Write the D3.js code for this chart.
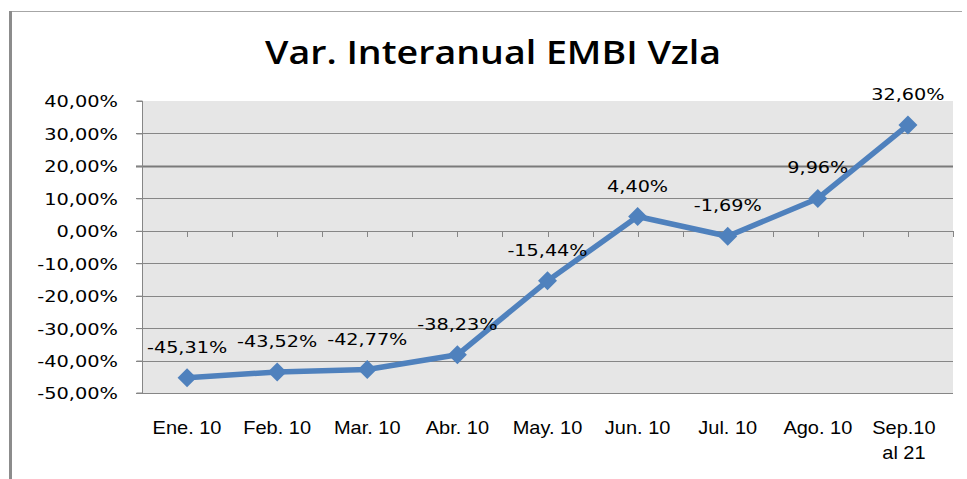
<!DOCTYPE html>
<html>
<head>
<meta charset="utf-8">
<script src="https://cdn.jsdelivr.net/npm/d3@7"></script>
<style>
  html, body { margin: 0; padding: 0; background: #ffffff; }
  svg { display: block; }
</style>
</head>
<body>
<svg id="chart" width="967" height="479"></svg>
<script>
// ---- data ----
const title = "Var. Interanual EMBI Vzla";
const categories = ["Ene. 10", "Feb. 10", "Mar. 10", "Abr. 10", "May. 10", "Jun. 10", "Jul. 10", "Ago. 10", "Sep.10\nal 21"];
const values = [-45.31, -43.52, -42.77, -38.23, -15.44, 4.40, -1.69, 9.96, 32.60];
const dataLabels = ["-45,31%", "-43,52%", "-42,77%", "-38,23%", "-15,44%", "4,40%", "-1,69%", "9,96%", "32,60%"];
const yTicks = [-50, -40, -30, -20, -10, 0, 10, 20, 30, 40];
const yTickLabels = ["-50,00%", "-40,00%", "-30,00%", "-20,00%", "-10,00%", "0,00%", "10,00%", "20,00%", "30,00%", "40,00%"];

// ---- layout ----
const W = 967, H = 479;
const plot = { left: 142, right: 953, top: 101, bottom: 393 };
const blue = "#4f81bd";
const gridColor = "#868686";

const svg = d3.select("#chart");

function stretch(sel, factor) {
  sel.each(function() {
    const w = this.getComputedTextLength();
    d3.select(this).attr("textLength", w * factor).attr("lengthAdjust", "spacingAndGlyphs");
  });
}

// outer frame (top and left only visible)
svg.append("line").attr("x1", 9).attr("x2", 962).attr("y1", 11.5).attr("y2", 11.5)
  .attr("stroke", "#a6a6a6").attr("stroke-width", 1);
svg.append("line").attr("x1", 10.5).attr("x2", 10.5).attr("y1", 11).attr("y2", H)
  .attr("stroke", "#8c8c8c").attr("stroke-width", 3);

// title
svg.append("text")
  .attr("x", (265 + 721) / 2).attr("y", 64)
  .attr("text-anchor", "middle")
  .attr("font-family", "'Open Sans', 'Liberation Sans', Arial, sans-serif")
  .attr("font-weight", 600)
  .attr("font-size", 32)
  .attr("fill", "#000")
  .attr("textLength", 456).attr("lengthAdjust", "spacingAndGlyphs")
  .text(title);

// scales
const x = d3.scaleBand().domain(categories).range([plot.left, plot.right]).padding(0);
const cx = d => x(d) + x.bandwidth() / 2;
const y = d3.scaleLinear().domain([-50, 40]).range([plot.bottom, plot.top]);
const xTick = d3.scaleLinear().domain([0, categories.length]).range([plot.left, plot.right]);

// plot area
svg.append("rect")
  .attr("x", plot.left).attr("y", plot.top)
  .attr("width", plot.right - plot.left).attr("height", plot.bottom - plot.top)
  .attr("fill", "#e6e6e6");

// gridlines
svg.append("g").selectAll("line").data(yTicks.filter(v => v !== 40)).join("line")
  .attr("x1", plot.left - 6).attr("x2", plot.right)
  .attr("y1", d => Math.round(y(d)) + 0.5).attr("y2", d => Math.round(y(d)) + 0.5)
  .attr("stroke", d => d === 20 ? "#7a7a7a" : gridColor)
  .attr("stroke-width", d => d === 20 ? 2 : 1);

// y axis
const yAxis = svg.append("g")
  .attr("transform", `translate(${plot.left + 0.5},0)`)
  .call(d3.axisLeft(y).tickValues(yTicks).tickSize(6).tickFormat((d, i) => yTickLabels[i]));
yAxis.select(".domain").attr("stroke", gridColor).attr("d", `M-6,${plot.top}H0V${plot.bottom}H-6`);
yAxis.selectAll(".tick line").attr("stroke", gridColor);
yAxis.selectAll(".tick text")
  .attr("x", -(plot.left + 0.5 - 118))
  .attr("dy", "0.37em")
  .attr("font-family", "'DejaVu Sans', Verdana, sans-serif")
  .attr("font-size", 16)
  .attr("fill", "#000")
  .call(stretch, 1.21);

// x axis ticks on zero line
const xt = d3.range(1, categories.length * 2 + 1).map(i => i / 2);
svg.append("g").selectAll("line").data(xt).join("line")
  .attr("x1", d => Math.round(xTick(d)) + 0.5).attr("x2", d => Math.round(xTick(d)) + 0.5)
  .attr("y1", Math.round(y(0))).attr("y2", Math.round(y(0)) + 6)
  .attr("stroke", gridColor).attr("stroke-width", 1);

// category labels
const xl = svg.append("g").selectAll("text").data(categories).join("text")
  .attr("text-anchor", "middle")
  .attr("font-family", "'Liberation Sans', Arial, sans-serif")
  .attr("font-size", 18.5)
  .attr("fill", "#000");
xl.each(function(d) {
  const lines = d.split("\n");
  d3.select(this).selectAll("tspan").data(lines).join("tspan")
    .attr("x", cx(d) - (lines.length > 1 ? 4 : 0))
    .attr("y", (l, i) => 434 + i * 25)
    .text(l => l)
    .each(function() {
      const w = this.getComputedTextLength();
      d3.select(this).attr("textLength", w * 1.08).attr("lengthAdjust", "spacingAndGlyphs");
    });
});

// line
const pts = categories.map((c, i) => ({ c, v: values[i], lab: dataLabels[i] }));
svg.append("path")
  .datum(pts)
  .attr("fill", "none")
  .attr("stroke", blue)
  .attr("stroke-width", 5.5)
  .attr("stroke-linejoin", "round")
  .attr("d", d3.line().x(d => cx(d.c)).y(d => y(d.v)));

// diamond markers
const r = 9.5;
svg.append("g").selectAll("path").data(pts).join("path")
  .attr("transform", d => `translate(${cx(d.c)},${y(d.v)})`)
  .attr("d", `M0,${-r}L${r},0L0,${r}L${-r},0Z`)
  .attr("fill", blue);

// data labels
svg.append("g").selectAll("text").data(pts).join("text")
  .attr("x", d => cx(d.c))
  .attr("y", d => y(d.v) - 25)
  .attr("text-anchor", "middle")
  .attr("font-family", "'DejaVu Sans', Verdana, sans-serif")
  .attr("font-size", 16)
  .attr("fill", "#000")
  .text(d => d.lab)
  .call(stretch, 1.2);
</script>
</body>
</html>
